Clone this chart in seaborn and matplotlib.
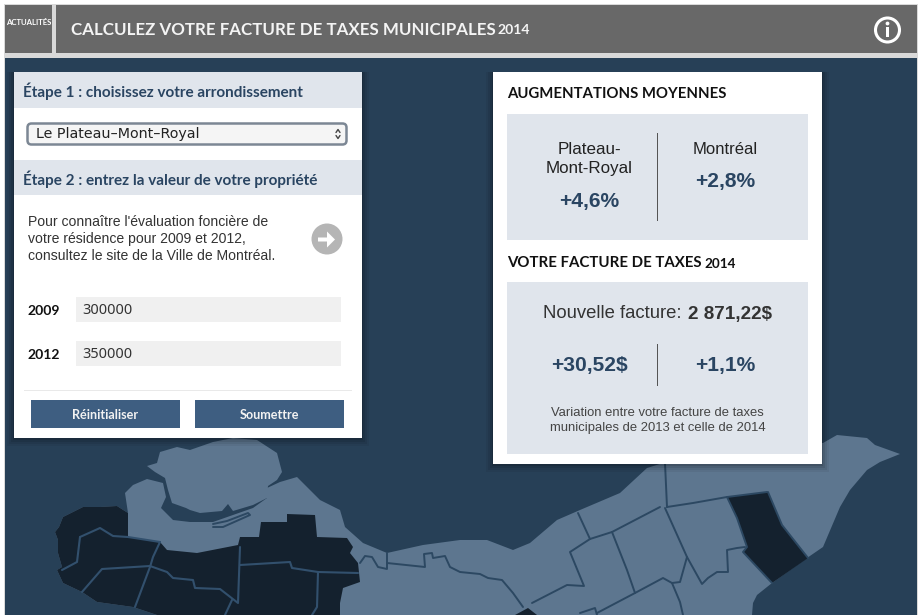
import matplotlib
matplotlib.use("Agg")
import matplotlib.pyplot as plt
import pandas as pd
import seaborn as sns
from matplotlib.patches import Circle, FancyArrow, FancyBboxPatch, Rectangle

# textes
title = "CALCULEZ VOTRE FACTURE DE TAXES MUNICIPALES"
step_titles = ["Étape 1 : choisissez votre arrondissement", "Étape 2 : entrez la valeur de votre propriété"]
borough = "Le Plateau–Mont–Royal"
help_lines = ["Pour connaître l'évaluation foncière de", "votre résidence pour 2009 et 2012,", "consultez le site de la Ville de Montréal."]
years = ["2009", "2012"]
property_values = ["300000", "350000"]
buttons = ["Réinitialiser", "Soumettre"]
increase_places = ["Plateau-\nMont-Royal", "Montréal"]
increase_values = ["+4,6%", "+2,8%"]
bill_total = "2 871,22$"
bill_changes = ["+30,52$", "+1,1%"]
bill_note = ["Variation entre votre facture de taxes", "municipales de 2013 et celle de 2014"]

# carte
laval = [(147,466),(157,463),(160,452),(177,447),(190,450),(213,442),(233,438),(257,440),(277,453),(282,472),
         (277,480),(268,486),(267,498),(253,505),(233,511),(228,504),(222,511),(200,513),(190,510),(186,508),
         (172,503),(168,490),(165,478),(155,472)]
island = [(55,532),(59,527),(63,517),(83,507),(100,507),(117,506),(128,513),(125,493),(133,485),(147,479),
          (163,483),(166,497),(161,508),(173,520),(190,522),(213,522),(233,515),(253,508),(267,498),(267,488),
          (280,482),(297,477),(320,500),(340,510),(345,527),(363,543),(387,553),(423,545),(460,540),(487,540),
          (513,550),(530,543),(557,520),(580,510),(620,493),(647,468),(663,463),(663,445),(823,443),(837,435),
          (867,438),(875,445),(900,454),(880,462),(867,470),(850,490),(840,507),(823,547),(807,558),(772,583),
          (757,595),(753,603),(752,615),(157,615),(133,607),(97,602),(82,592),(63,583),(57,570),(62,567),(58,553),(58,540)]
west_dark = [(55,532),(59,527),(63,517),(83,507),(100,507),(117,506),(128,513),(128,537),(160,542),(167,550),
             (197,553),(238,545),(240,537),(259,537),(261,522),(287,522),(287,514),(315,515),(317,537),(347,538),
             (353,547),(350,553),(358,563),(360,582),(343,588),(340,603),(340,615),(157,615),(133,607),(97,602),
             (82,592),(63,583),(57,570),(62,567),(58,553),(58,540)]
east_dark = [(727,497),(768,492),(782,525),(808,558),(772,583),(743,552),(747,547),(737,518)]
south_dark = [(515,615),(528,608),(537,615)]

west_borders = [
    [(80,537),(100,528),(113,536),(128,537),(160,542)],
    [(80,537),(77,562),(62,570)],
    [(82,592),(102,569),(150,566),(167,572),(173,578),(193,580),(195,588),(220,589),(238,603),(240,547)],
    [(160,542),(153,557),(150,567),(135,607)],
    [(232,600),(225,615)],
    [(240,565),(290,562),(292,568),(318,572),(358,573)],
    [(318,572),(317,607),(312,615)],
]
east_borders = [
    [(360,563),(365,556),(372,557),(378,567),(387,569),(387,553)],
    [(387,563),(425,567),(424,554),(432,553),(433,558),(445,556),(450,567),(460,572),(480,574),(488,578),
     (502,580),(513,593),(523,607)],
    [(665,463),(667,507)],
    [(667,507),(693,503),(727,497),(767,492)],
    [(660,507),(612,532),(590,539),(570,552),(584,586),(567,585),(532,603)],
    [(578,513),(590,539)],
    [(612,532),(627,570),(635,593),(597,613)],
    [(635,593),(663,578),(672,583),(680,602),(683,615)],
    [(672,583),(680,582),(687,557)],
    [(665,508),(687,557),(702,584),(708,578),(717,572),(728,572),(727,550),(737,548),(745,547)],
    [(580,613),(595,608),(597,615)],
    [(213,527),(223,527),(250,515),(248,513),(227,521),(213,524)],
    [(727,497),(737,518),(747,547),(743,552),(772,583)],
    [(768,492),(782,525),(808,558)],
]

GREY = "#686868"
NAVY = "#274057"
LIGHT = "#5d768f"
DARK = "#14212e"
LINE = "#2c4862"
PALE = "#e0e5ec"
INK = "#2a4562"
BRAND = "Lato"
BODY = "Liberation Sans"

sns.set_theme(style="white")
plt.rcParams["font.family"] = [BODY, "DejaVu Sans"]


def outlines(parts):
    rows = []
    for i, part in enumerate(parts):
        for x, y in part:
            rows.append({"x": x, "y": y, "part": i})
    return pd.DataFrame(rows)


def box(ax, x0, y0, x1, y1, color, z=3, **kw):
    ax.add_patch(Rectangle((x0, y0), x1 - x0, y1 - y0, facecolor=color, edgecolor="none", zorder=z, **kw))


def label(ax, x, y, s, px, color="#222222", family=BODY, weight="normal", ha="left", va="center", z=6, **kw):
    return ax.text(x, y + 1.5, s, fontsize=px * 0.72, color=color, family=family, fontweight=weight,
                   ha=ha, va=va, zorder=z, **kw)


def panel(ax, x0, y0, x1, y1):
    # ombre douce sous le panneau
    for grow, alpha in [(7, 0.05), (5, 0.07), (3, 0.09), (1, 0.12)]:
        box(ax, x0 - grow, y0, x1 + grow, y1 + grow + 1, "#000000", z=2.5, alpha=alpha)
    box(ax, x0, y0, x1, y1, "white")


fig, ax = plt.subplots(figsize=(9.23, 6.15), dpi=100)
ax.set_position([0, 0, 1, 1])
ax.set_xlim(0, 923)
ax.set_ylim(615, 0)
ax.axis("off")

# cadre et bandeau
box(ax, 0, 0, 923, 615, "white", z=0)
box(ax, 4, 4, 918, 615, "#d9d9d9", z=0.2)
box(ax, 5, 58, 917, 615, NAVY, z=0.5)
box(ax, 5, 5, 52, 53, GREY, z=1)
box(ax, 56, 5, 917, 53, GREY, z=1)
label(ax, 29, 21, "ACTUALITÉS", 7.8, color="white", family=BRAND, weight="bold", ha="center")
label(ax, 71, 28.5, title, 16.9, color="#f4f4f4", family=BRAND, weight="bold")
label(ax, 498, 29, "2014", 14, color="#f4f4f4", family=BRAND, weight="bold")
ax.add_patch(Circle((887.5, 30), 12, facecolor="none", edgecolor="white", lw=2.2, zorder=6))
ax.add_patch(Circle((887.5, 23.5), 1.9, facecolor="white", edgecolor="none", zorder=6))
box(ax, 886, 27, 889, 37, "white", z=6)

# carte
ax.fill(*zip(*laval), color=LIGHT, lw=0, zorder=1)
ax.fill(*zip(*island), color=LIGHT, lw=0, zorder=1)
for region in (west_dark, east_dark, south_dark):
    ax.fill(*zip(*region), color=DARK, lw=0, zorder=1.2)
sns.lineplot(data=outlines(west_borders), x="x", y="y", units="part", estimator=None, sort=False,
             color="#32506d", lw=1.5, ax=ax, zorder=1.4, legend=False)
sns.lineplot(data=outlines(east_borders), x="x", y="y", units="part", estimator=None, sort=False,
             color=LINE, lw=1.4, ax=ax, zorder=1.4, legend=False)
ax.set_xlim(0, 923)
ax.set_ylim(615, 0)
ax.axis("off")

# panneau de gauche
panel(ax, 14, 72, 362, 438)
box(ax, 14, 72, 362, 108, PALE, z=4)
box(ax, 14, 160, 362, 195, PALE, z=4)
label(ax, 23, 90, step_titles[0], 15.2, color=INK, family=BRAND, weight="bold")
label(ax, 23, 177.5, step_titles[1], 15.2, color=INK, family=BRAND, weight="bold")
ax.add_patch(FancyBboxPatch((27.5, 123.5), 319, 21, boxstyle="round,pad=0,rounding_size=4",
                            facecolor="#f5f5f5", edgecolor="#7c8794", lw=1.8, zorder=5))
label(ax, 36, 132.5, borough, 14.2, color="#222222", family="DejaVu Sans")
ax.plot([336, 338, 340], [132.5, 129.5, 132.5], color="#444444", lw=1, zorder=6)
ax.plot([336, 338, 340], [135.5, 138.5, 135.5], color="#444444", lw=1, zorder=6)
for i, line in enumerate(help_lines):
    label(ax, 28, 220 + i * 17.5, line, 14.05, color="#333333")
ax.add_patch(Circle((327, 239), 15.5, facecolor="#b5b5b5", edgecolor="none", zorder=5))
ax.add_patch(FancyArrow(318, 239.5, 17, 0, width=4, head_width=16, head_length=8,
                        length_includes_head=True, facecolor="white", edgecolor="none", zorder=6))
for y0, year, value in zip([297, 341], years, property_values):
    box(ax, 76, y0, 341, y0 + 25, "#f0f0f0", z=4)
    label(ax, 28, y0 + 12.5, year, 14, color="#111111", family=BRAND, weight="bold")
    label(ax, 82, y0 + 11.5, value, 14.5, color="#333333", family="Noto Sans")
box(ax, 24, 390, 352, 391, "#e9e9e9", z=4)
for x0, text in zip([31, 195], buttons):
    box(ax, x0, 400, x0 + 149, 428, "#3e5e81", z=4)
    label(ax, x0 + 74.5, 413.5, text, 12.6, color="#f2f2f2", family=BRAND, weight="bold", ha="center")

# panneau de droite
panel(ax, 493, 72, 822, 464)
label(ax, 507, 93, "AUGMENTATIONS MOYENNES", 14.9, color="#111111", family=BRAND, weight="bold")
box(ax, 507, 114, 808, 240, PALE, z=4)
box(ax, 657, 133, 658, 221, "#555555", z=5)
label(ax, 589, 157.5, increase_places[0], 17, color="#222222", ha="center", linespacing=1.32)
label(ax, 725.5, 147.5, increase_places[1], 16.6, color="#222222", ha="center")
label(ax, 589, 200, increase_values[0], 21, color=INK, weight="bold", ha="center")
label(ax, 725.5, 180, increase_values[1], 21, color=INK, weight="bold", ha="center")

label(ax, 507, 261.5, "VOTRE FACTURE DE TAXES", 15, color="#111111", family=BRAND, weight="bold")
label(ax, 704, 262.5, "2014", 13.5, color="#111111", family=BRAND, weight="bold")
box(ax, 507, 282, 808, 454, PALE, z=4)
label(ax, 543, 317, "Nouvelle facture:", 18.5, color="#333333", va="baseline")
label(ax, 688, 317, bill_total, 18.9, color="#333333", weight="bold", va="baseline")
box(ax, 657, 344, 658, 386, "#555555", z=5)
label(ax, 589, 364.5, bill_changes[0], 21, color=INK, weight="bold", ha="center")
label(ax, 725.5, 364.5, bill_changes[1], 21, color=INK, weight="bold", ha="center")
label(ax, 657.5, 411, bill_note[0], 13, color="#444444", ha="center")
label(ax, 657.5, 427, bill_note[1], 13, color="#444444", ha="center")

fig.savefig("out.png", dpi=100)
